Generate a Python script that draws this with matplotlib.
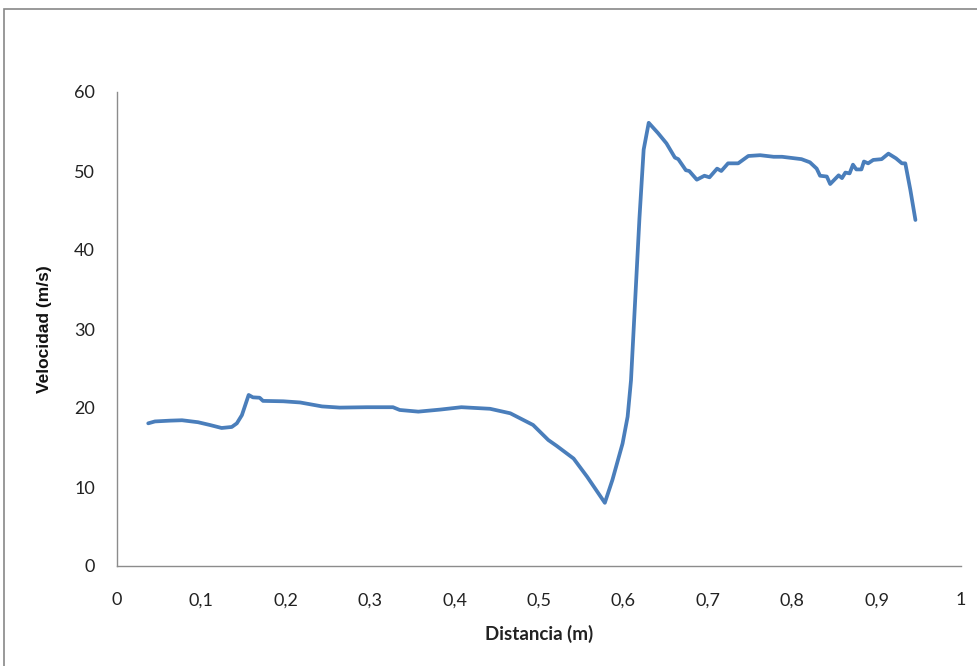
import numpy as np
import matplotlib
matplotlib.use('Agg')
import matplotlib.pyplot as plt
from matplotlib.patches import Rectangle

# distance (m) and velocity (m/s)
distancia = [0.037, 0.045, 0.063, 0.077, 0.096, 0.110, 0.124, 0.136, 0.142, 0.148,
             0.156, 0.161, 0.169, 0.173, 0.197, 0.217, 0.243, 0.264, 0.296, 0.327,
             0.335, 0.357, 0.383, 0.408, 0.442, 0.466, 0.493, 0.511, 0.521, 0.541,
             0.557, 0.578, 0.587, 0.599, 0.605, 0.609, 0.619, 0.624, 0.630, 0.641,
             0.651, 0.661, 0.665, 0.674, 0.678, 0.687, 0.696, 0.702, 0.711, 0.716,
             0.724, 0.736, 0.748, 0.762, 0.778, 0.788, 0.811, 0.821, 0.829, 0.833,
             0.841, 0.845, 0.855, 0.859, 0.863, 0.868, 0.872, 0.876, 0.882, 0.885,
             0.890, 0.896, 0.906, 0.914, 0.923, 0.930, 0.934, 0.940, 0.946]
velocidad = [18.06, 18.3, 18.4, 18.45, 18.2, 17.85, 17.47, 17.6, 18.06, 19.1,
             21.65, 21.35, 21.3, 20.9, 20.85, 20.7, 20.2, 20.05, 20.1, 20.1,
             19.75, 19.54, 19.8, 20.1, 19.9, 19.33, 17.85, 15.95, 15.2, 13.6,
             11.3, 8.0, 10.9, 15.5, 18.9, 23.5, 44.0, 52.7, 56.1, 54.8,
             53.5, 51.7, 51.5, 50.1, 50.0, 48.9, 49.4, 49.2, 50.3, 50.0,
             50.97, 50.97, 51.9, 52.0, 51.8, 51.8, 51.5, 51.1, 50.3, 49.4,
             49.3, 48.35, 49.45, 49.1, 49.8, 49.7, 50.8, 50.2, 50.2, 51.2,
             50.97, 51.4, 51.5, 52.2, 51.6, 50.97, 50.97, 47.6, 43.8]

xticks = [0, 0.1, 0.2, 0.3, 0.4, 0.5, 0.6, 0.7, 0.8, 0.9, 1]
yticks = [0, 10, 20, 30, 40, 50, 60]

fig = plt.figure(figsize=(9.77, 6.66), dpi=100)
ax = fig.add_axes([117/977, 100/666, 844/977, 474/666])

ax.plot(distancia, velocidad, color='#4a7ebb', lw=2.7, solid_capstyle='round',
        solid_joinstyle='round')

ax.set_xlim(0, 1)
ax.set_ylim(0, 60)
ax.set_xticks(xticks)
ax.set_yticks(yticks)
ax.set_xticklabels([('%g' % t).replace('.', ',') for t in xticks])
ax.set_yticklabels([str(t) for t in yticks])
ax.tick_params(length=0, labelsize=13, colors='#222222')
ax.tick_params(axis='x', pad=19)
ax.tick_params(axis='y', pad=16)
for lab in ax.get_xticklabels() + ax.get_yticklabels():
    lab.set_family('Lato')

for side in ['top', 'right']:
    ax.spines[side].set_visible(False)
for side in ['left', 'bottom']:
    ax.spines[side].set_color('#8c8c8c')
    ax.spines[side].set_linewidth(1)

ax.set_xlabel('Distancia (m)', fontsize=13.5, fontweight='bold', family='Lato',
              color='#222222', labelpad=12)
ax.set_ylabel('Velocidad (m/s)', fontsize=12.5, fontweight='bold',
              family='Liberation Sans', color='#111111', labelpad=16)

# outer chart frame (cropped on the right and bottom)
fig.patches.append(Rectangle((4/977, -0.1), 1.2, (657/666) + 0.1,
                             transform=fig.transFigure, fill=False,
                             edgecolor='#888888', lw=1.2))

fig.savefig('out.png', dpi=100)
